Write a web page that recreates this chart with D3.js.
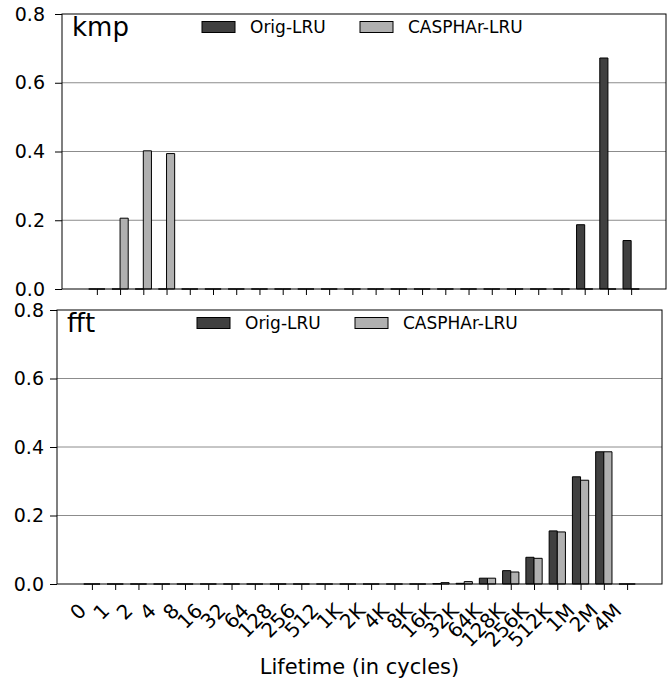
<!DOCTYPE html>
<html>
<head>
<meta charset="utf-8">
<script src="https://cdn.jsdelivr.net/npm/d3@7"></script>
<style>
  body { margin: 0; background: #fff; }
  svg text { font-family: "DejaVu Sans", sans-serif; fill: #000; }
</style>
</head>
<body>
<div class="canvas"></div>
<script>
// Data
const categories = ['0', '1', '2', '4', '8', '16', '32', '64', '128', '256', '512',
  '1K', '2K', '4K', '8K', '16K', '32K', '64K', '128K', '256K', '512K', '1M', '2M', '4M']
const seriesNames = ['Orig-LRU', 'CASPHAr-LRU']
const kmpOrig = [0, 0, 0, 0, 0, 0, 0, 0, 0, 0, 0, 0, 0, 0, 0, 0, 0, 0, 0, 0, 0, 0.187, 0.672, 0.141]
const kmpCas = [0, 0.206, 0.402, 0.394, 0, 0, 0, 0, 0, 0, 0, 0, 0, 0, 0, 0, 0, 0, 0, 0, 0, 0, 0, 0]
const fftOrig = [0, 0, 0, 0, 0, 0, 0, 0, 0, 0, 0, 0, 0, 0, 0, 0.001, 0.002, 0.017, 0.039, 0.078, 0.155, 0.313, 0.386, 0]
const fftCas = [0, 0, 0, 0, 0, 0, 0, 0, 0, 0, 0, 0, 0, 0, 0, 0.004, 0.007, 0.017, 0.035, 0.075, 0.152, 0.303, 0.386, 0]
const yTicks = [0, 0.2, 0.4, 0.6, 0.8]
const xLabel = 'Lifetime (in cycles)'

const colors = ['#404040', '#b0b0b0']
const barW = 0.35

const svg = d3.select('.canvas')
  .append('svg')
  .attr('width', 671)
  .attr('height', 684)

const drawPanel = (name, orig, cas, box, labelGap, showLabels) => {
  const w = box.right - box.left
  const h = box.bottom - box.top
  const g = svg.append('g').attr('transform', `translate(${box.left}, ${box.top})`)

  const x = d3.scaleLinear().domain([-1.5, categories.length + 0.5]).range([0, w])
  const y = d3.scaleLinear().domain([0, 0.8]).range([h, 0])

  // gridlines
  g.selectAll('.grid')
    .data(yTicks.slice(1, -1))
    .enter().append('line')
    .attr('x1', 0).attr('x2', w)
    .attr('y1', d => y(d)).attr('y2', d => y(d))
    .attr('stroke', '#8c8c8c')
    .attr('stroke-width', 1)

  // bars
  const series = [orig, cas]
  series.forEach((vals, s) => {
    g.selectAll(`.bar${s}`)
      .data(vals)
      .enter().append('path')
      .attr('d', (d, i) => {
        const x0 = s === 0 ? x(i - barW) : x(i)
        const x1 = s === 0 ? x(i) : x(i + barW)
        return `M${x0},${y(0)}V${y(d)}H${x1}V${y(0)}Z`
      })
      .attr('fill', colors[s])
      .attr('stroke', '#000')
      .attr('stroke-width', 1)
  })

  // axes
  const xAxis = d3.axisBottom(x)
    .tickValues(d3.range(categories.length))
    .tickSize(6)
    .tickFormat('')
  const yAxis = d3.axisLeft(y)
    .tickValues(yTicks)
    .tickSize(7)
    .tickFormat(d3.format('.1f'))

  const xg = g.append('g').attr('transform', `translate(0, ${h})`).call(xAxis)
  xg.select('.domain').remove()
  const yg = g.append('g').call(yAxis)
  yg.select('.domain').remove()
  yg.selectAll('text').style('font-size', '19px').attr('x', -labelGap)

  // frame
  g.append('rect')
    .attr('width', w).attr('height', h)
    .attr('fill', 'none')
    .attr('stroke', '#000')
    .attr('stroke-width', 1)

  if (showLabels) {
    xg.selectAll('.tick')
      .append('text')
      .text((d, i) => categories[i])
      .attr('text-anchor', 'end')
      .attr('transform', 'translate(-5, 28) rotate(-45)')
      .style('font-size', '20px')
  }

  // panel title
  g.append('text')
    .attr('x', 10).attr('y', 21.5)
    .style('font-size', '26px')
    .text(name)

  // legend
  const legendX = [140, 298]
  seriesNames.forEach((n, s) => {
    g.append('rect')
      .attr('x', legendX[s]).attr('y', 7.5)
      .attr('width', 33).attr('height', 11)
      .attr('fill', colors[s])
      .attr('stroke', '#000')
    g.append('text')
      .attr('x', legendX[s] + 48).attr('y', 19)
      .style('font-size', '17px')
      .text(n)
  })

  return g
}

drawPanel('kmp', kmpOrig, kmpCas, { left: 62, top: 14, right: 666, bottom: 289 }, 17, false)
drawPanel('fft', fftOrig, fftCas, { left: 57, top: 310, right: 662, bottom: 584 }, 13, true)

svg.append('text')
  .attr('x', 359.5).attr('y', 674)
  .attr('text-anchor', 'middle')
  .style('font-size', '21px')
  .text(xLabel)
</script>
</body>
</html>
